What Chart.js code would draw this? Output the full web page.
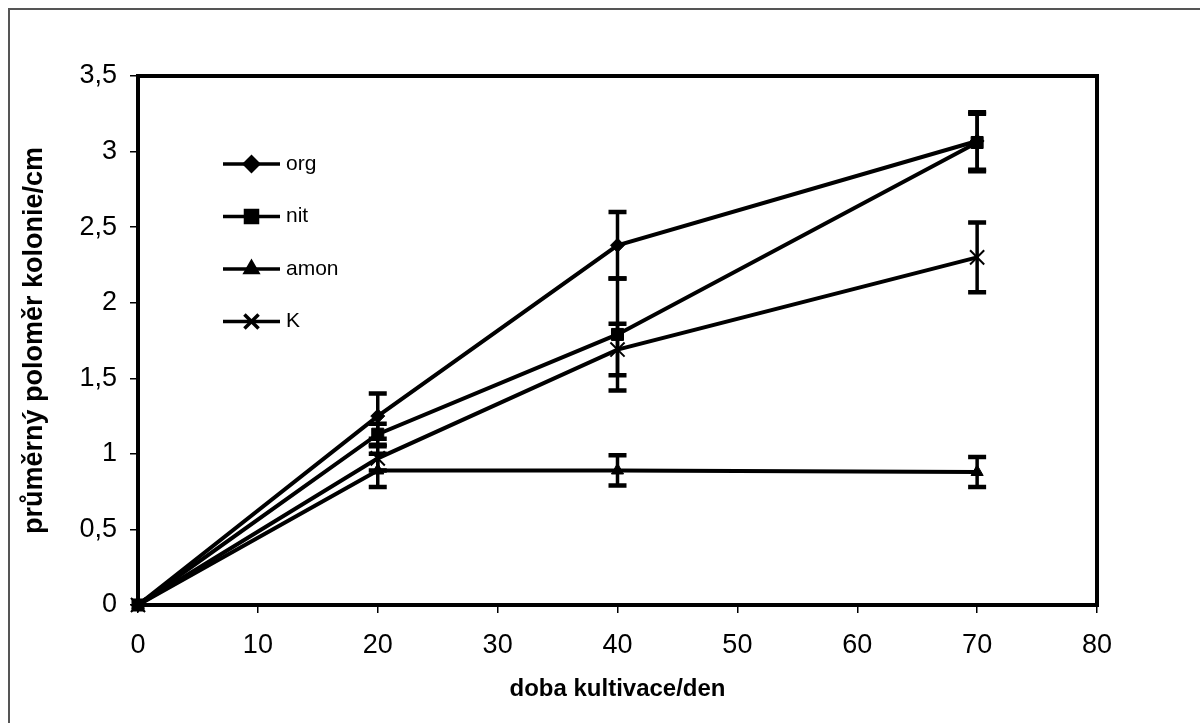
<!DOCTYPE html>
<html>
<head>
<meta charset="utf-8">
<script src="https://cdn.jsdelivr.net/npm/chart.js@4/dist/chart.umd.min.js"></script>
<style>
  html, body { margin: 0; padding: 0; background: #fff; overflow: hidden; }
  #wrap { position: relative; width: 1200px; height: 723px; }
  #frame { position: absolute; left: 8px; top: 8px; width: 1300px; height: 800px;
           border-top: 2px solid #555; border-left: 2px solid #555; pointer-events: none; }
  canvas { position: absolute; left: 0; top: 0; }
</style>
</head>
<body>
<div id="wrap">
  <canvas id="c" width="1200" height="723"></canvas>
  <div id="frame"></div>
</div>
<script>
// Cultivation time (days)
const days = [0, 20, 40, 70];

// Mean colony radius (cm) and error half-widths per nitrogen source
const orgValues  = [0, 1.25, 2.38, 3.07];
const orgErrors  = [0, 0.15, 0.22, 0.19];
const nitValues  = [0, 1.13, 1.79, 3.06];
const nitErrors  = [0, 0.07, 0.37, 0.19];
const amonValues = [0, 0.89, 0.89, 0.88];
const amonErrors = [0, 0.11, 0.10, 0.10];
const kValues    = [0, 0.97, 1.69, 2.30];
const kErrors    = [0, 0.08, 0.17, 0.23];

const seriesNames = ['org', 'nit', 'amon', 'K'];

const xTitle = 'doba kultivace/den';
const yTitle = 'průměrný poloměr kolonie/cm';

const FONT = "'Liberation Sans', Arial, sans-serif";

function pts(values) {
  return days.map((d, i) => ({ x: d, y: values[i] }));
}

function series(label, values, errors, style, radius, borderW) {
  return {
    label,
    data: pts(values),
    errors,
    borderColor: '#000',
    backgroundColor: '#000',
    borderWidth: 4,
    pointStyle: style,
    pointRadius: radius,
    pointHoverRadius: radius,
    pointBorderWidth: borderW,
    pointBorderColor: '#000',
    pointBackgroundColor: '#000',
    tension: 0,
    clip: false
  };
}

// Vertical error bars with caps, drawn through the chart's scales
const errorBars = {
  id: 'errorBars',
  afterDatasetsDraw(chart) {
    const { ctx, scales: { x, y } } = chart;
    ctx.save();
    ctx.strokeStyle = '#000';
    chart.data.datasets.forEach(ds => {
      ds.data.forEach((p, i) => {
        const e = ds.errors[i];
        if (!e) return;
        const px = x.getPixelForValue(p.x);
        const yTop = y.getPixelForValue(p.y + e);
        const yBot = y.getPixelForValue(p.y - e);
        ctx.lineWidth = 3.5;
        ctx.beginPath();
        ctx.moveTo(px, yTop);
        ctx.lineTo(px, yBot);
        ctx.stroke();
        ctx.lineWidth = 4.5;
        ctx.beginPath();
        ctx.moveTo(px - 9, yTop); ctx.lineTo(px + 9, yTop);
        ctx.moveTo(px - 9, yBot); ctx.lineTo(px + 9, yBot);
        ctx.stroke();
      });
    });
    ctx.restore();
  }
};

// Legend inside the plot: line sample with the series marker, then its name
const innerLegend = {
  id: 'innerLegend',
  afterDraw(chart) {
    const { ctx, chartArea } = chart;
    const x0 = chartArea.left + 85;
    const x1 = chartArea.left + 142;
    const xm = (x0 + x1) / 2;
    ctx.save();
    chart.data.datasets.forEach((ds, i) => {
      const yy = chartArea.top + 88 + i * 52.5;
      ctx.strokeStyle = '#000';
      ctx.lineWidth = 3.5;
      ctx.beginPath();
      ctx.moveTo(x0, yy);
      ctx.lineTo(x1, yy);
      ctx.stroke();
      Chart.helpers.drawPoint(ctx, {
        pointStyle: ds.pointStyle,
        radius: ds.pointRadius,
        borderWidth: ds.pointBorderWidth
      }, xm, yy);
      ctx.fillStyle = '#000';
      ctx.font = '21px ' + FONT;
      ctx.textBaseline = 'middle';
      ctx.textAlign = 'left';
      ctx.fillText(ds.label, x1 + 6, yy);
    });
    ctx.restore();
  }
};

// Thick box around the plotting area
const plotBox = {
  id: 'plotBox',
  afterDatasetsDraw(chart) {
    const { ctx, chartArea: a } = chart;
    ctx.save();
    ctx.strokeStyle = '#000';
    ctx.lineWidth = 4;
    ctx.strokeRect(a.left, a.top, a.right - a.left, a.bottom - a.top);
    ctx.restore();
  }
};

const ctx = document.getElementById('c').getContext('2d');
Chart.defaults.font.family = FONT;
Chart.defaults.color = '#000';

new Chart(ctx, {
  type: 'line',
  data: {
    datasets: [
      series(seriesNames[0], orgValues, orgErrors, 'rectRot', 7, 1),
      series(seriesNames[1], nitValues, nitErrors, 'rect', 8.5, 1),
      series(seriesNames[2], amonValues, amonErrors, 'triangle', 7, 1),
      series(seriesNames[3], kValues, kErrors, 'crossRot', 10, 2)
    ]
  },
  options: {
    responsive: false,
    animation: false,
    devicePixelRatio: 1,
    layout: { padding: { top: 76, right: 103, left: 0, bottom: 0 } },
    plugins: {
      legend: { display: false },
      tooltip: { enabled: false }
    },
    scales: {
      x: {
        type: 'linear',
        min: 0, max: 80,
        ticks: { stepSize: 10, font: { size: 27 }, color: '#000', padding: 16, maxRotation: 0 },
        grid: { drawOnChartArea: false, drawTicks: true, tickLength: 8, color: '#000', lineWidth: 1.5 },
        border: { display: false },
        title: { display: true, text: xTitle, font: { size: 24, weight: 'bold' }, color: '#000', padding: { top: 0, bottom: 19 } },
        afterFit(scale) { scale.height = 118; }
      },
      y: {
        min: 0, max: 3.5,
        ticks: {
          stepSize: 0.5, font: { size: 27 }, color: '#000', padding: 13,
          callback: v => String(v).replace('.', ',')
        },
        grid: { drawOnChartArea: false, drawTicks: true, tickLength: 8, color: '#000', lineWidth: 1.5 },
        border: { display: false },
        title: { display: true, text: yTitle, font: { size: 27, weight: 'bold' }, color: '#000', padding: { top: 18, bottom: 0 } },
        afterFit(scale) { scale.width = 138; }
      }
    }
  },
  plugins: [plotBox, errorBars, innerLegend]
});
</script>
</body>
</html>
